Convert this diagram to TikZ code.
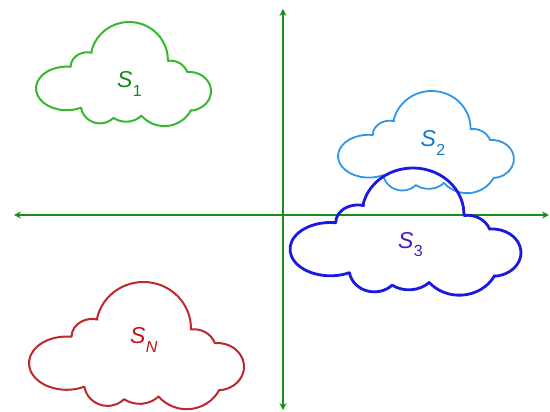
\documentclass[tikz,border=0pt]{standalone}
\usepackage{fontspec}
\setmainfont{Liberation Sans}
\usetikzlibrary{arrows.meta}

\definecolor{axisgreen}{RGB}{25,140,25}
\definecolor{cloudgreen}{RGB}{55,185,45}
\definecolor{textgreen}{RGB}{20,140,20}
\definecolor{cloudsky}{RGB}{45,150,235}
\definecolor{textsky}{RGB}{20,120,200}
\definecolor{cloudblue}{RGB}{25,25,225}
\definecolor{textblue}{RGB}{70,25,200}
\definecolor{cloudred}{RGB}{190,40,45}
\definecolor{textred}{RGB}{200,15,25}

% Cloud outline in a 177 x 107 frame (y pointing down): one arc per puff,
% clockwise from the bottom of the left lobe
\newcommand\cloudshape[5]{%
  \draw[#5, shift={(#1,#2)}, xscale=#3, yscale=#4]
    (45.55,88.4) arc[start angle=62, end angle=277.4, x radius=31, y radius=22.5]
    -- (35,46.2) arc[start angle=180, end angle=285, x radius=17, y radius=15]
    -- (55.95,30.97) arc[start angle=192, end angle=361.3, radius=39.1]
    -- (133.3,40.1) arc[start angle=261.9, end angle=338.9, radius=18.4]
    -- (152.8,51.6) arc[start angle=264.3, end angle=445, x radius=22, y radius=20]
    -- (156.7,91.0) arc[start angle=27.2, end angle=139.8, radius=30.26]
    -- (106.7,96.7) arc[start angle=46.7, end angle=124, radius=22.8]
    -- (78.3,99) arc[start angle=45.1, end angle=170.7, radius=19.34]
    -- cycle;}

\tikzset{
  axis/.style={axisgreen, line width=1.5pt, {Stealth[length=7pt,width=7pt,inset=2.5pt]}-{Stealth[length=7pt,width=7pt,inset=2.5pt]}},
  setlabel/.style={anchor=base west, inner sep=0pt, font=\fontsize{23}{23}\selectfont\itshape},
}
\newcommand\setname[1]{S\kern0.3pt\raisebox{-9pt}{\fontsize{16}{16}\selectfont#1}}

\begin{document}
\begin{tikzpicture}[x=1pt, y=-1pt, line join=round]
  \useasboundingbox (0,0) rectangle (550,412);

  % coordinate axes
  \coordinate (xl) at (14,215);
  \coordinate (xr) at (549,215);
  \coordinate (yt) at (283,9);
  \coordinate (yb) at (283,410);
  \draw[axis] (xl) -- (xr);
  \draw[axis] (yb) -- (yt);

  % the sets
  \cloudshape{36}{22}{0.989}{0.969}{cloudgreen, line width=2pt}
  \cloudshape{338}{91}{0.994}{0.951}{cloudsky, line width=1.8pt}
  \cloudshape{290}{168}{1.305}{1.184}{cloudblue, line width=2.8pt}
  \cloudshape{29}{282}{1.215}{1.184}{cloudred, line width=2pt}

  % labels
  \node[setlabel, textgreen] (l1) at (117,88) {\setname{\upshape 1}};
  \node[setlabel, textsky] (l2) at (420.5,147) {\setname{\upshape 2}};
  \node[setlabel, textblue] (l3) at (398,248) {\setname{\upshape 3}};
  \node[setlabel, textred] (ln) at (130,343) {\setname{N}};
\end{tikzpicture}
\end{document}
